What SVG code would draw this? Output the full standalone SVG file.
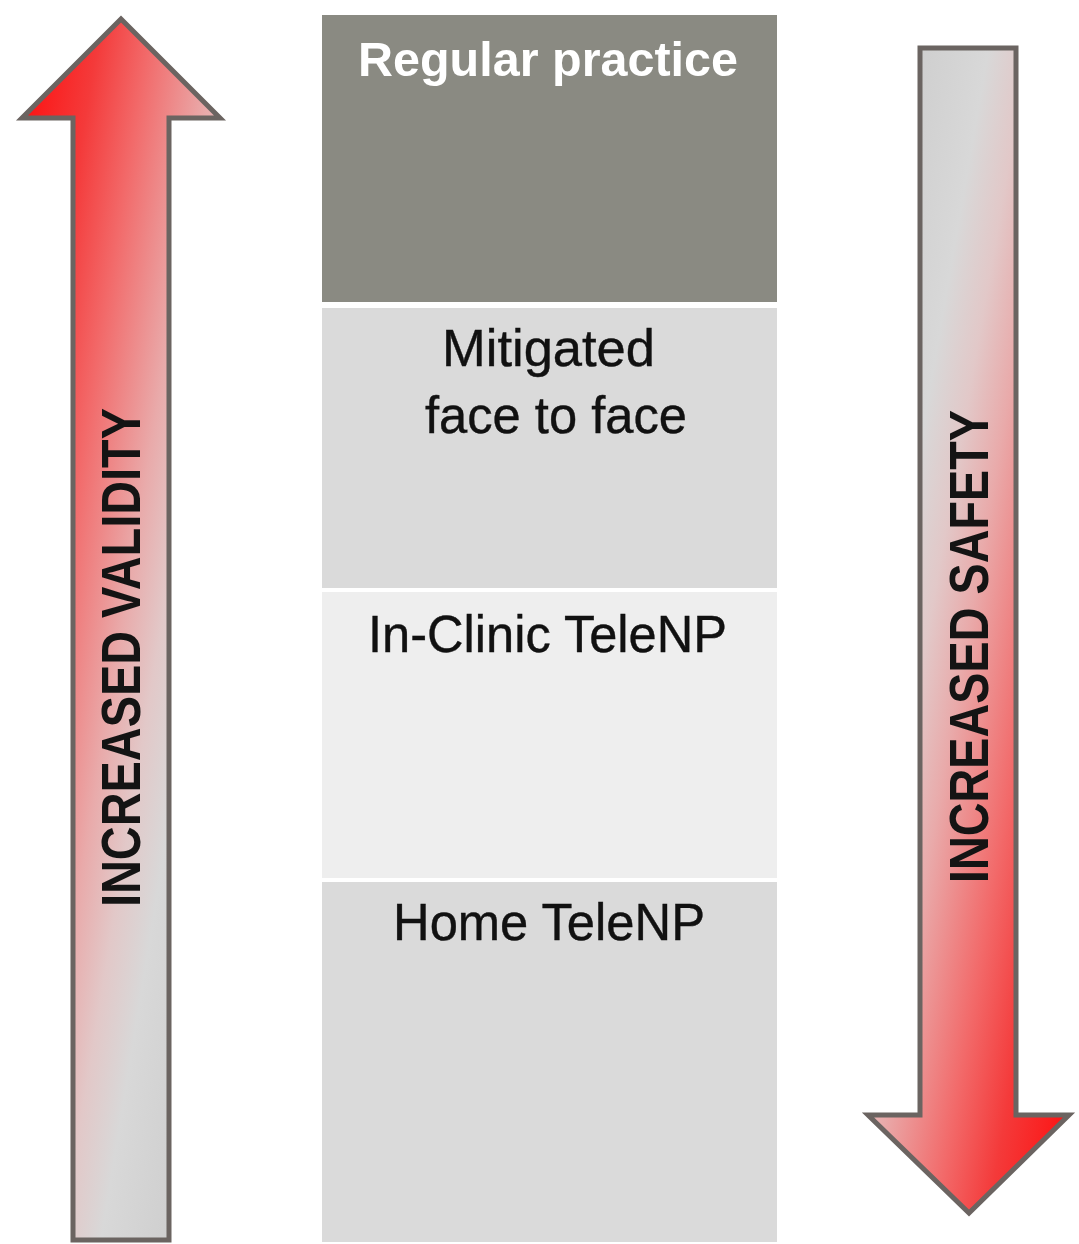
<svg xmlns="http://www.w3.org/2000/svg" width="1079" height="1244" viewBox="0 0 1079 1244">
  <defs>
    <linearGradient id="gradUp" x1="0" y1="0" x2="1" y2="1">
      <stop offset="0" stop-color="#ff0a0a"/>
      <stop offset="0.2" stop-color="#f43a3a"/>
      <stop offset="0.33" stop-color="#f26a6a"/>
      <stop offset="0.5" stop-color="#e9aaaa"/>
      <stop offset="0.6" stop-color="#e2c8c8"/>
      <stop offset="0.7" stop-color="#d8d8d8"/>
      <stop offset="1" stop-color="#c8c8c8"/>
    </linearGradient>
    <linearGradient id="gradDown" x1="0" y1="0" x2="1" y2="1">
      <stop offset="0" stop-color="#c8c8c8"/>
      <stop offset="0.3" stop-color="#d8d8d8"/>
      <stop offset="0.4" stop-color="#e2c8c8"/>
      <stop offset="0.5" stop-color="#e9aaaa"/>
      <stop offset="0.67" stop-color="#f26a6a"/>
      <stop offset="0.8" stop-color="#f43a3a"/>
      <stop offset="1" stop-color="#ff0a0a"/>
    </linearGradient>
  </defs>
  <style>
    .arrow { stroke: #6b6461; stroke-width: 5; stroke-linejoin: miter; }
    .lbl { font-family: "Liberation Sans", Arial, sans-serif; fill: #111111; text-anchor: middle; stroke: #111111; stroke-width: 0.4; }
    .side { font-family: "Liberation Sans", Arial, sans-serif; fill: #141414; text-anchor: middle; font-size: 55px; font-weight: bold; }
    .title { font-family: "Liberation Sans", Arial, sans-serif; fill: #ffffff; font-weight: bold; text-anchor: middle; font-size: 49px; }
  </style>
  <rect width="1079" height="1244" fill="#ffffff"/>

  <g id="arrow-validity">
    <polygon class="arrow" fill="url(#gradUp)" points="121,19 220,118 169,118 169,1240 73,1240 73,118 22,118"/>
    <text class="side" transform="translate(140,657.5) rotate(-90)" textLength="499" lengthAdjust="spacingAndGlyphs">INCREASED VALIDITY</text>
  </g>

  <g id="arrow-safety">
    <polygon class="arrow" fill="url(#gradDown)" points="920,48 1016,48 1016,1115 1069,1115 969,1213 868,1115 920,1115"/>
    <text class="side" transform="translate(988,646.5) rotate(-90)" textLength="473" lengthAdjust="spacingAndGlyphs">INCREASED SAFETY</text>
  </g>

  <g id="box-regular">
    <rect x="322" y="15" width="455" height="287" fill="#8a8a82"/>
    <text class="title" x="548" y="76" textLength="380" lengthAdjust="spacingAndGlyphs">Regular practice</text>
  </g>

  <g id="box-mitigated">
    <rect x="322" y="308" width="455" height="280" fill="#dadada"/>
    <text class="lbl" x="548.5" y="366" font-size="52" textLength="213" lengthAdjust="spacingAndGlyphs">Mitigated</text>
    <text class="lbl" x="556" y="433" font-size="52" textLength="262" lengthAdjust="spacingAndGlyphs">face to face</text>
  </g>

  <g id="box-inclinic">
    <rect x="322" y="592" width="455" height="286" fill="#eeeeee"/>
    <text class="lbl" x="547.5" y="652" font-size="52" textLength="359" lengthAdjust="spacingAndGlyphs">In-Clinic TeleNP</text>
  </g>

  <g id="box-home">
    <rect x="322" y="882" width="455" height="360" fill="#dadada"/>
    <text class="lbl" x="549" y="940" font-size="52" textLength="312" lengthAdjust="spacingAndGlyphs">Home TeleNP</text>
  </g>

  <g id="connectors"/>
</svg>
